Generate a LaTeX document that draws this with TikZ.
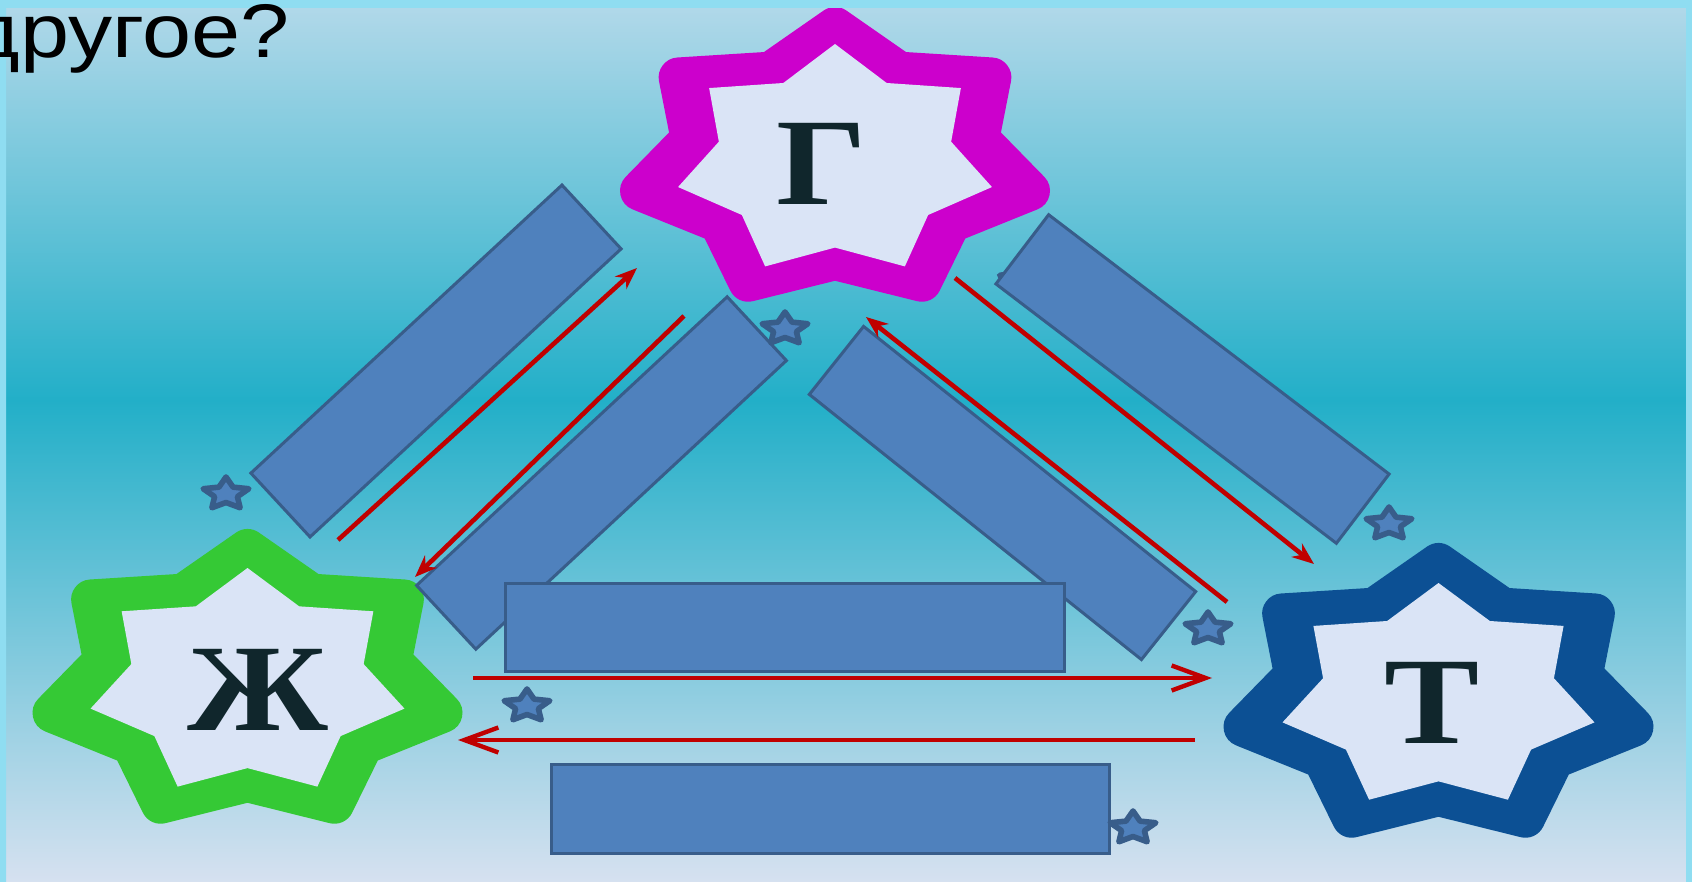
\documentclass[tikz,border=0pt]{standalone}
\usepackage{fontspec}
\setmainfont{Liberation Serif}
\newfontfamily\headfont{Liberation Sans}
\usetikzlibrary{arrows.meta}

\definecolor{framecol}{RGB}{143,221,241}
\definecolor{bgtop}{RGB}{176,216,233}
\definecolor{bgupper}{RGB}{100,192,214}
\definecolor{bgmid}{RGB}{34,175,200}
\definecolor{bglower}{RGB}{140,205,224}
\definecolor{bgbottom}{RGB}{214,225,240}
\definecolor{boxfill}{RGB}{79,129,189}
\definecolor{boxline}{RGB}{56,93,138}
\definecolor{arrowred}{RGB}{192,0,0}
\definecolor{rimG}{RGB}{204,0,204}
\definecolor{rimZh}{RGB}{53,201,53}
\definecolor{rimT}{RGB}{12,80,148}
\definecolor{starcore}{RGB}{218,228,246}
\definecolor{letterink}{RGB}{16,38,44}

% seven-pointed star: style, cx, cy, rx, ry, inner ratio
\newcommand\drawseven[6]{%
  \path[#1] plot[samples at={0,...,13}, variable=\k]
    ({#2+#4*(1-(1-#6)*mod(\k,2))*cos(90+\k*180/7)},
     {#3-#5*(1-(1-#6)*mod(\k,2))*sin(90+\k*180/7)}) -- cycle;}

% five-pointed star: style, cx, cy, rx, ry, angle of first tip
\newcommand\drawfive[6]{%
  \path[#1] plot[samples at={0,...,9}, variable=\k]
    ({#2+#4*(1-0.5*mod(\k,2))*cos(#6+\k*36)},
     {#3-#5*(1-0.5*mod(\k,2))*sin(#6+\k*36)}) -- cycle;}

\begin{document}
\begin{tikzpicture}[x=0.5pt,y=-0.5pt,
  panelbox/.style={draw=boxline, fill=boxfill, line width=1.5pt, inner sep=0pt, minimum height=43.5pt},
  smallstar/.style={fill=boxfill, draw=boxline, line width=2.8pt, line join=round},
  rim/.style={fill=#1, draw=#1, line width=20pt, line join=round},
  core/.style={fill=starcore},
  starletter/.style={font=\bfseries\fontsize{62}{62}\selectfont, text=letterink, inner sep=0pt, anchor=base, xscale=1.15},
  fwdarrow/.style={draw=arrowred, line width=2.3pt, -{Stealth[length=11pt,width=8.5pt]}},
  chevarrow/.style={draw=arrowred, line width=2.2pt, -{Straight Barb[length=17pt,width=12.5pt]}}]

\useasboundingbox (0,0) rectangle (1692,882);

% panel background
\fill[framecol] (0,0) rectangle (1692,882);
\shade[top color=bgtop, middle color=bgupper, bottom color=bgmid] (6,8) rectangle (1686,401);
\shade[top color=bgmid, middle color=bglower, bottom color=bgbottom] (6,400) rectangle (1686,882);

% the three large stars
\drawseven{rim=rimG}{835}{161}{200}{134}{0.74}
\drawseven{core}{835}{161}{161}{117}{0.74}
\drawseven{rim=rimZh}{247.5}{683}{200}{134}{0.74}
\drawseven{core}{247.5}{683}{161}{115}{0.74}
\drawseven{rim=rimT}{1438.5}{697}{200}{134}{0.74}
\drawseven{core}{1438.5}{697}{160}{114}{0.74}

\node[starletter] (G) at (822,205) {Г};
\node[starletter] (Zh) at (258,730) {Ж};
\node[starletter] (T) at (1432,743) {Т};

% small star hidden under the upper right box, one tip showing
\drawfive{smallstar}{1020}{279}{21}{15}{94}

% empty answer boxes
\node[panelbox, minimum width=212pt, rotate=42.8] (r1) at (436,361) {};
\node[panelbox, minimum width=212pt, rotate=42.9] (r2) at (601.5,473) {};
\node[panelbox, minimum width=212.5pt, rotate=-38.6] (r3) at (1002.5,493) {};
\node[panelbox, minimum width=214pt, rotate=-37.3] (r4) at (1192.5,379) {};
\node[panelbox, minimum width=279.5pt, minimum height=44pt] (r5) at (785,627.5) {};
\node[panelbox, minimum width=279pt, minimum height=44.5pt] (r6) at (830.5,809) {};

% small marker stars
\drawfive{smallstar}{226}{494}{24}{17}{90}
\drawfive{smallstar}{785}{329}{24}{17}{90}
\drawfive{smallstar}{1389}{524}{24}{17}{90}
\drawfive{smallstar}{1208}{629}{24}{17}{90}
\drawfive{smallstar}{527}{706}{24}{17}{90}
\drawfive{smallstar}{1133}{828}{24}{17}{90}

% arrow end points
\coordinate (a1s) at (338,540);  \coordinate (a1e) at (637,268);
\coordinate (a2s) at (684,316);  \coordinate (a2e) at (415,577);
\coordinate (a3s) at (955,278);  \coordinate (a3e) at (1314,564);
\coordinate (a4s) at (1227,602); \coordinate (a4e) at (866,317);
\coordinate (a5s) at (473,678);  \coordinate (a5e) at (1212,678);
\coordinate (a6s) at (1195,740); \coordinate (a6e) at (458,740);

\draw[fwdarrow] (a1s) -- (a1e);
\draw[fwdarrow] (a2s) -- (a2e);
\draw[fwdarrow] (a3s) -- (a3e);
\draw[fwdarrow] (a4s) -- (a4e);
\draw[chevarrow] (a5s) -- (a5e);
\draw[chevarrow] (a6s) -- (a6e);

% outer frame
\fill[framecol, even odd rule] (-5,-5) rectangle (1697,890) (6,8) rectangle (1686,895);

\node[font=\headfont\fontsize{38}{38}\selectfont, anchor=base east, inner sep=0pt, xscale=1.16] (q) at (290,58) {другое?};
\end{tikzpicture}
\end{document}
